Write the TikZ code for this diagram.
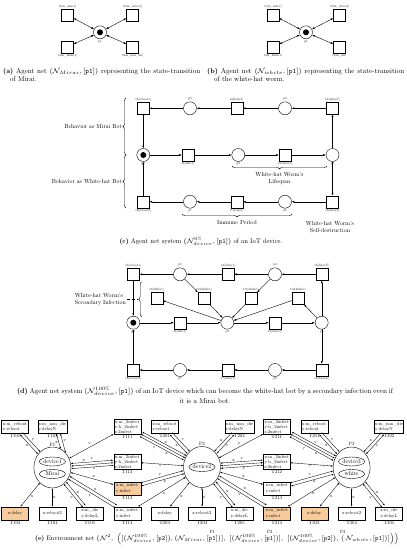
\RequirePackage{fix-cm}
\documentclass[tikz,border=0pt]{standalone}
\usepackage{fontspec}
\setmainfont{lmroman}[Extension=.otf,UprightFont=*10-regular,BoldFont=*10-bold,ItalicFont=*10-italic,BoldItalicFont=*10-bolditalic]
\usepackage{amsmath}
\usepackage{tikz}
\usetikzlibrary{calc}
\usetikzlibrary{arrows.meta}
\usetikzlibrary{shapes.geometric}
\usetikzlibrary{decorations.pathreplacing}
\definecolor{boxorange}{RGB}{248,203,157}
\tikzstyle{place}=[circle,draw,minimum size=13pt,inner sep=0pt,line width=.4pt]
\tikzstyle{trans}=[rectangle,draw,minimum size=12pt,inner sep=0pt,line width=.4pt]
\tikzstyle{dot}=[circle,fill=black,minimum size=6pt,inner sep=0pt]
\tikzstyle{tiny}=[font=\fontsize{3.2}{3.6}\selectfont,inner sep=.8pt]
\tikzstyle{note}=[font=\fontsize{5.9}{7}\selectfont,align=center,inner sep=1pt]
\tikzstyle{captext}=[font=\fontsize{7}{8}\selectfont,inner sep=0pt]
\tikzstyle{flow}=[-{Latex[length=2.6pt,width=2pt]},line width=.4pt]
\tikzstyle{both}=[{Latex[length=2.6pt,width=2pt]}-{Latex[length=2.6pt,width=2pt]},line width=.4pt]
\tikzstyle{brace}=[decoration={brace,amplitude=3pt},decorate,line width=.4pt]
\tikzstyle{box}=[rectangle,draw,minimum width=27pt,minimum height=13pt,inner sep=.8pt,align=left,line width=.4pt,font=\fontsize{4.6}{5.2}\selectfont]
\tikzstyle{hot}=[fill=boxorange]
\tikzstyle{bigplace}=[ellipse,draw,minimum width=37pt,minimum height=41pt,inner sep=0pt,line width=.4pt]
\tikzstyle{agent}=[ellipse,draw,minimum width=26pt,minimum height=9pt,inner sep=0pt,line width=.4pt,font=\fontsize{5.8}{6.5}\selectfont]
\tikzstyle{tlab}=[font=\fontsize{4.8}{5.5}\selectfont,inner sep=.6pt]
\tikzstyle{wire}=[{Latex[length=2pt,width=1.6pt]}-{Latex[length=2pt,width=1.6pt]},line width=.35pt]
\tikzstyle{wlab}=[font=\fontsize{4.4}{5}\selectfont,inner sep=.5pt]
\newcommand{\netarc}[5][0pt]{\draw[wire,transform canvas={shift={($(#2)!#1!90:(#3)-(#2)$)}}] (#2) -- node[wlab,#4]{#5} (#3);}
\newcommand{\placetag}[1]{\text{\rule[-1.4pt]{0pt}{1pt}#1}}

\begin{document}
\begin{tikzpicture}
        [x=1pt,y=-1pt]
            \useasboundingbox (0,0) rectangle (407,550);
            \node[place,label={[tiny]below:p1}] (ap1) at (100,32.3) {};
            \node[dot] (ap1tok) at (ap1) {};
            \node[trans,label={[tiny]above:{t1[m\_infect]}}] (at1) at (67.5,15) {};
            \node[trans,label={[tiny]above:{t2[m\_reboot]}}] (at2) at (132.5,15) {};
            \node[trans,label={[tiny]below:{t4[m\_2infect]}}] (at4) at (67.5,46.7) {};
            \node[trans,label={[tiny]below:{t3[m\_non\_die]}}] (at3) at (132.5,46.7) {};
            \draw[both] (ap1) -- (at1);
            \draw[both] (ap1) -- (at2);
            \draw[both] (ap1) -- (at4);
            \draw[both] (ap1) -- (at3);
            \node[captext,anchor=west,align=left] (capa) at (3,75) {\makebox[197pt][s]{\textbf{(a)} Agent net $(\mathcal{N}_{Mirai}, [\mathtt{p1}])$ representing the state-transition}\\\hspace*{7pt}of Mirai.};

            \node[place,label={[tiny]below:p1}] (bp1) at (306,32.3) {};
            \node[dot] (bp1tok) at (bp1) {};
            \node[trans,label={[tiny]above:{t1[m\_infect]}}] (bt1) at (273,15) {};
            \node[trans,label={[tiny]above:{t2[m\_reboot]}}] (bt2) at (339.5,15) {};
            \node[trans,label={[tiny]below:{t4[h\_2infect]}}] (bt4) at (273,46.7) {};
            \node[trans,label={[tiny]below:{t3[m\_die]}}] (bt3) at (339.5,46.7) {};
            \draw[both] (bp1) -- (bt1);
            \draw[both] (bp1) -- (bt2);
            \draw[both] (bp1) -- (bt4);
            \draw[both] (bp1) -- (bt3);
            \node[captext,anchor=west,align=left] (capb) at (207,75) {\makebox[197pt][s]{\textbf{(b)} Agent net $(\mathcal{N}_{white}, [\mathtt{p1}])$ representing the state-transition}\\\hspace*{7pt}of the white-hat worm.};

            \node[trans,label={[tiny]above:{t5[reboot1]}}] (ct5) at (143.3,108.3) {};
            \node[place,label={[tiny]above:p5}] (cp5) at (190,108.3) {};
            \node[trans,label={[tiny]above:{t4[delay1]}}] (ct4) at (236.7,108.3) {};
            \node[place,label={[tiny]above:p4}] (cp4) at (285,108.3) {};
            \node[trans,label={[tiny]above:{t3[delayN]}}] (ct3) at (332.5,108.3) {};
            \node[place,label={[tiny]below:p1}] (cp1) at (143.3,155) {};
            \node[dot] (cp1tok) at (cp1) {};
            \node[trans,label={[tiny]below:{t1[infect]}}] (ct1) at (188,155) {};
            \node[place,label={[tiny]below:p2}] (cp2) at (238.3,155) {};
            \node[trans,label={[tiny]below:{t2[delay1]}}] (ct2) at (285,155) {};
            \node[place,label={[tiny]below:p3}] (cp3) at (332.5,155) {};
            \node[trans,label={[tiny]below:{t8[reboot2]}}] (ct8) at (143.3,201.7) {};
            \node[place,label={[tiny]below:p7}] (cp7) at (190,201.7) {};
            \node[trans,label={[tiny]below:{t7[delay1]}}] (ct7) at (236.7,201.7) {};
            \node[place,label={[tiny]below:p6}] (cp6) at (285,201.7) {};
            \node[trans,label={[tiny]below:{t6[delayL]}}] (ct6) at (332.5,201.7) {};
            \draw[flow] (ct3) -- (cp4); \draw[flow] (cp4) -- (ct4); \draw[flow] (ct4) -- (cp5);
            \draw[flow] (cp5) -- (ct5); \draw[flow] (ct5) -- (cp1);
            \draw[flow] (cp1) -- (ct1); \draw[flow] (ct1) -- (cp2); \draw[flow] (cp2) -- (ct2);
            \draw[flow] (ct2) -- (cp3); \draw[flow] (cp3) -- (ct3); \draw[flow] (cp3) -- (ct6);
            \draw[flow] (ct6) -- (cp6); \draw[flow] (cp6) -- (ct7); \draw[flow] (ct7) -- (cp7);
            \draw[flow] (cp7) -- (ct8); \draw[flow] (ct8) -- (cp1);
            \draw[brace] (126,155) -- node[note,left=3pt] (cmirai) {Behavior as Mirai Bot} (126,98);
            \draw[brace] (126,208) -- node[note,left=3pt] (cwhite) {Behavior as White-hat Bot} (126,155);
            \draw[brace] (327,166) -- node[note,below=5pt] (clife) {White-hat Worm's\\Lifespan} (232,166);
            \draw[brace] (292,214) -- node[note,below=5pt] (cimmune) {Immune Period} (182,214);
            \node[note] (cself) at (330,227) {White-hat Worm's\\Self-destruction};
            \node[captext,font=\fontsize{6.6}{8}\selectfont] (capc) at (201,241) {\textbf{(c)} Agent net system $(\mathcal{N}^{0\%}_{device}, [\mathtt{p1}])$ of an IoT device.};

            \node[trans,label={[tiny]above:{t5[reboot1]}}] (dt5) at (133.3,274.3) {};
            \node[place,label={[tiny]above:p5}] (dp5) at (180,274.3) {};
            \node[trans,label={[tiny]above:{t4[delay1]}}] (dt4) at (228,274.3) {};
            \node[place,label={[tiny]above:p4}] (dp4) at (275,274.3) {};
            \node[trans,label={[tiny]above:{t3[delayN]}}] (dt3) at (321.7,274.3) {};
            \node[trans,label={[tiny]above:{t9[2infect]}}] (dt9) at (156.7,298.5) {};
            \node[trans,label={[tiny]above:{t10[2infect]}}] (dt10) at (204,298.5) {};
            \node[trans,label={[tiny]above:{t11[2infect]}}] (dt11) at (251,298.5) {};
            \node[trans,label={[tiny]above:{t12[2infect]}}] (dt12) at (298,298.5) {};
            \node[place,label={[tiny]below:p1}] (dp1) at (133.3,322.7) {};
            \node[dot] (dp1tok) at (dp1) {};
            \node[trans,label={[tiny]below:{t1[infect]}}] (dt1) at (180,322.7) {};
            \node[place,label={[tiny]below:p2}] (dp2) at (227.3,322.7) {};
            \node[trans,label={[tiny]below:{t2[delay1]}}] (dt2) at (275,322.7) {};
            \node[place,label={[tiny]below:p3}] (dp3) at (321.7,322.7) {};
            \node[trans,label={[tiny]below:{t8[reboot2]}}] (dt8) at (133.3,370) {};
            \node[place,label={[tiny]below:p7}] (dp7) at (180,370) {};
            \node[trans,label={[tiny]below:{t7[delay1]}}] (dt7) at (228,370) {};
            \node[place,label={[tiny]below:p6}] (dp6) at (275,370) {};
            \node[trans,label={[tiny]below:{t6[delayL]}}] (dt6) at (321.7,370) {};
            \draw[flow] (dt3) -- (dp4); \draw[flow] (dp4) -- (dt4); \draw[flow] (dt4) -- (dp5);
            \draw[flow] (dp5) -- (dt5); \draw[flow] (dt5) -- (dp1);
            \draw[flow] (dp1) -- (dt1); \draw[flow] (dt1) -- (dp2); \draw[flow] (dp2) -- (dt2);
            \draw[flow] (dt2) -- (dp3); \draw[flow] (dp3) -- (dt3); \draw[flow] (dp3) -- (dt6);
            \draw[flow] (dt6) -- (dp6); \draw[flow] (dp6) -- (dt7); \draw[flow] (dt7) -- (dp7);
            \draw[flow] (dp7) -- (dt8); \draw[flow] (dt8) -- (dp1);
            \draw[flow] (dp5) -- (dt10); \draw[flow] (dp4) -- (dt11); \draw[flow] (dp3) -- (dt12);
            \draw[flow] (dt10) -- (dp2); \draw[flow] (dt11) -- (dp2); \draw[flow] (dt12) -- (dp2);
            \draw[flow] (dp2) -- (dt9);
            \draw[brace] (141.7,316.7) -- (141.7,281.7);
            \coordinate (dtip) at (138.2,299.2);
            \node[note,align=left,anchor=east] (dsec) at (127,299.2) {White-hat Worm's\\Secondary Infection};
            \draw[densely dashed,line width=.4pt] (dsec) -- (dtip);
            \node[captext,font=\fontsize{7}{10}\selectfont,align=center] (capd) at (205,395) {\makebox[376pt][s]{\textbf{(d)} Agent net system $(\mathcal{N}^{100\%}_{device}, [\mathtt{p1}])$ of an IoT device which can become the white-hat bot by a secondary infection even if}\\it is a Mirai bot.};

            \node[box,label={[tlab]below:T101}] (T101) at (15,426.7) {x:m\_reboot\\y:reboot};
            \node[box,label={[tlab]below:T102}] (T102) at (52.4,426.7) {x:m\_non\_die\\y:delayN};
            \node[box,label={[tlab]below:T111}] (T111) at (127.2,426.7) {x:m\_2infect\\y:h\_2infect\\z:2infect};
            \node[box,label={[tlab]below:T201}] (T201) at (164.6,426.7) {x:m\_reboot\\y:reboot};
            \node[box,label={[tlab]below:T202}] (T202) at (239.4,426.7) {x:m\_non\_die\\y:delayN};
            \node[box,label={[tlab]below:T211}] (T211) at (276.8,426.7) {x:m\_2infect\\y:h\_2infect\\z:2infect};
            \node[box,label={[tlab]below:T301}] (T301) at (314.2,426.7) {x:m\_reboot\\y:reboot};
            \node[box,label={[tlab]below:T302}] (T302) at (389,426.7) {x:m\_non\_die\\y:delayN};
            \node[box,label={[tlab]below:T112}] (T112) at (127.2,461.7) {x:m\_2infect\\y:h\_2infect\\z:2infect};
            \node[box,label={[tlab]below:T212}] (T212) at (276.8,461.7) {x:m\_2infect\\y:h\_2infect\\z:2infect};
            \node[box,hot,label={[tlab]below:T113}] (T113) at (127.2,488.3) {x:m\_infect\\y:infect};
            \node[box,label={[tlab]below:T213}] (T213) at (276.8,488.3) {x:m\_infect\\y:infect};
            \node[box,hot,label={[tlab]below:T103}] (T103) at (15,513.3) {x:delay};
            \node[box,label={[tlab]below:T104}] (T104) at (52.4,513.3) {x:reboot2};
            \node[box,label={[tlab]below:T105}] (T105) at (89.8,513.3) {x:m\_die\\y:delayL};
            \node[box,label={[tlab]below:T114}] (T114) at (127.2,513.3) {x:m\_infect\\y:infect};
            \node[box,label={[tlab]below:T203}] (T203) at (164.6,513.3) {x:delay};
            \node[box,label={[tlab]below:T204}] (T204) at (202,513.3) {x:reboot2};
            \node[box,label={[tlab]below:T205}] (T205) at (239.4,513.3) {x:m\_die\\y:delayL};
            \node[box,hot,label={[tlab]below:T214}] (T214) at (276.8,513.3) {x:m\_infect\\y:infect};
            \node[box,hot,label={[tlab]below:T303}] (T303) at (314.2,513.3) {x:delay};
            \node[box,label={[tlab]below:T304}] (T304) at (351.6,513.3) {x:reboot2};
            \node[box,label={[tlab]below:T305}] (T305) at (389,513.3) {x:m\_die\\y:delayL};
            \node[bigplace,label={[tlab]above:P1}] (P1) at (52.4,467.5) {};
            \node[agent] (P1dev) at (52.4,461.5) {device1};
            \node[agent] (P1mir) at (52.4,474) {Mirai};
            \node[bigplace,label={[tlab]above:P2}] (P2) at (202,467) {};
            \node[agent] (P2dev) at (202,467) {device2};
            \node[bigplace,label={[tlab]above:P3}] (P3) at (351.6,467.5) {};
            \node[agent] (P3dev) at (351.6,461.5) {device3};
            \node[agent] (P3whi) at (351.6,474) {white};

            \netarc[1.6pt]{P1}{T101}{auto}{x} \netarc[-1.6pt]{P1}{T101}{auto,swap}{y}
            \netarc{P1.66}{T102.-60}{auto}{x} \netarc{P1.48}{T102.-40}{auto,swap}{y}
            \netarc{P1}{T111}{auto}{y}
            \netarc[2.6pt]{P1}{T112}{auto,pos=.35}{x} \netarc{P1}{T112}{auto,inner sep=3.1pt,pos=.6}{y} \netarc[-2.6pt]{P1}{T112}{auto,swap}{z}
            \netarc{P1}{T113}{auto}{x}
            \netarc[1.6pt]{P1}{T114}{auto}{x} \netarc[-1.6pt]{P1}{T114}{auto,swap}{y}
            \netarc[1.6pt]{P1}{T105}{auto}{x} \netarc[-1.6pt]{P1}{T105}{auto,swap}{y}
            \netarc{P1}{T104}{auto}{x}
            \netarc{P1}{T103}{auto}{x}

            \netarc[2.6pt]{P2}{T111}{auto,pos=.35}{x} \netarc{P2}{T111}{auto,inner sep=3.1pt,pos=.6}{y} \netarc[-2.6pt]{P2}{T111}{auto,swap}{z}
            \netarc[1.6pt]{P2}{T201}{auto}{x} \netarc[-1.6pt]{P2}{T201}{auto,swap}{y}
            \netarc[1.6pt]{P2}{T202}{auto}{x} \netarc[-1.6pt]{P2}{T202}{auto,swap}{y}
            \netarc{P2}{T211}{auto}{y}
            \netarc{P2}{T112}{auto}{y}
            \netarc[2.6pt]{P2}{T212}{auto,pos=.35}{x} \netarc{P2}{T212}{auto,inner sep=3.1pt,pos=.6}{y} \netarc[-2.6pt]{P2}{T212}{auto,swap}{z}
            \netarc[1.6pt]{P2}{T113}{auto}{x} \netarc[-1.6pt]{P2}{T113}{auto,swap}{y}
            \netarc{P2}{T213}{auto}{x}
            \netarc{P2}{T114}{auto}{x}
            \netarc{P2}{T203}{auto}{x}
            \netarc{P2}{T204}{auto}{x}
            \netarc[1.6pt]{P2}{T205}{auto}{x} \netarc[-1.6pt]{P2}{T205}{auto,swap}{y}
            \netarc[1.6pt]{P2}{T214}{auto}{x} \netarc[-1.6pt]{P2}{T214}{auto,swap}{y}

            \netarc[2.6pt]{P3}{T211}{auto,pos=.35}{x} \netarc{P3}{T211}{auto,inner sep=3.1pt,pos=.6}{y} \netarc[-2.6pt]{P3}{T211}{auto,swap}{z}
            \netarc[1.6pt]{P3}{T301}{auto}{x} \netarc[-1.6pt]{P3}{T301}{auto,swap}{y}
            \netarc[1.6pt]{P3}{T302}{auto}{x} \netarc[-1.6pt]{P3}{T302}{auto,swap}{y}
            \netarc{P3}{T212}{auto}{y}
            \netarc[1.6pt]{P3}{T213}{auto}{x} \netarc[-1.6pt]{P3}{T213}{auto,swap}{y}
            \netarc{P3}{T214}{auto}{x}
            \netarc{P3}{T303}{auto}{x}
            \netarc{P3}{T304}{auto}{x}
            \netarc[1.6pt]{P3}{T305}{auto}{x} \netarc[-1.6pt]{P3}{T305}{auto,swap}{y}
            \node[captext,font=\fontsize{6.5}{8}\selectfont] (cape) at (217,537) {\textbf{(e)} Environment net $(\mathcal{N}^2,\ \Big( [(\mathcal{N}^{100\%}_{device}, [\mathtt{p2}]), (\mathcal{N}_{Mirai}, \overset{\placetag{P1}}{[\mathtt{p1}]})],\ [(\mathcal{N}^{100\%}_{device}, \overset{\placetag{P2}}{[\mathtt{p1}]})],\ [(\mathcal{N}^{100\%}_{device}, [\mathtt{p2}]), \overset{\placetag{P3}}{(}\mathcal{N}_{white}, [\mathtt{p1}])]\Big)\Big)$};
        \end{tikzpicture}
\end{document}
